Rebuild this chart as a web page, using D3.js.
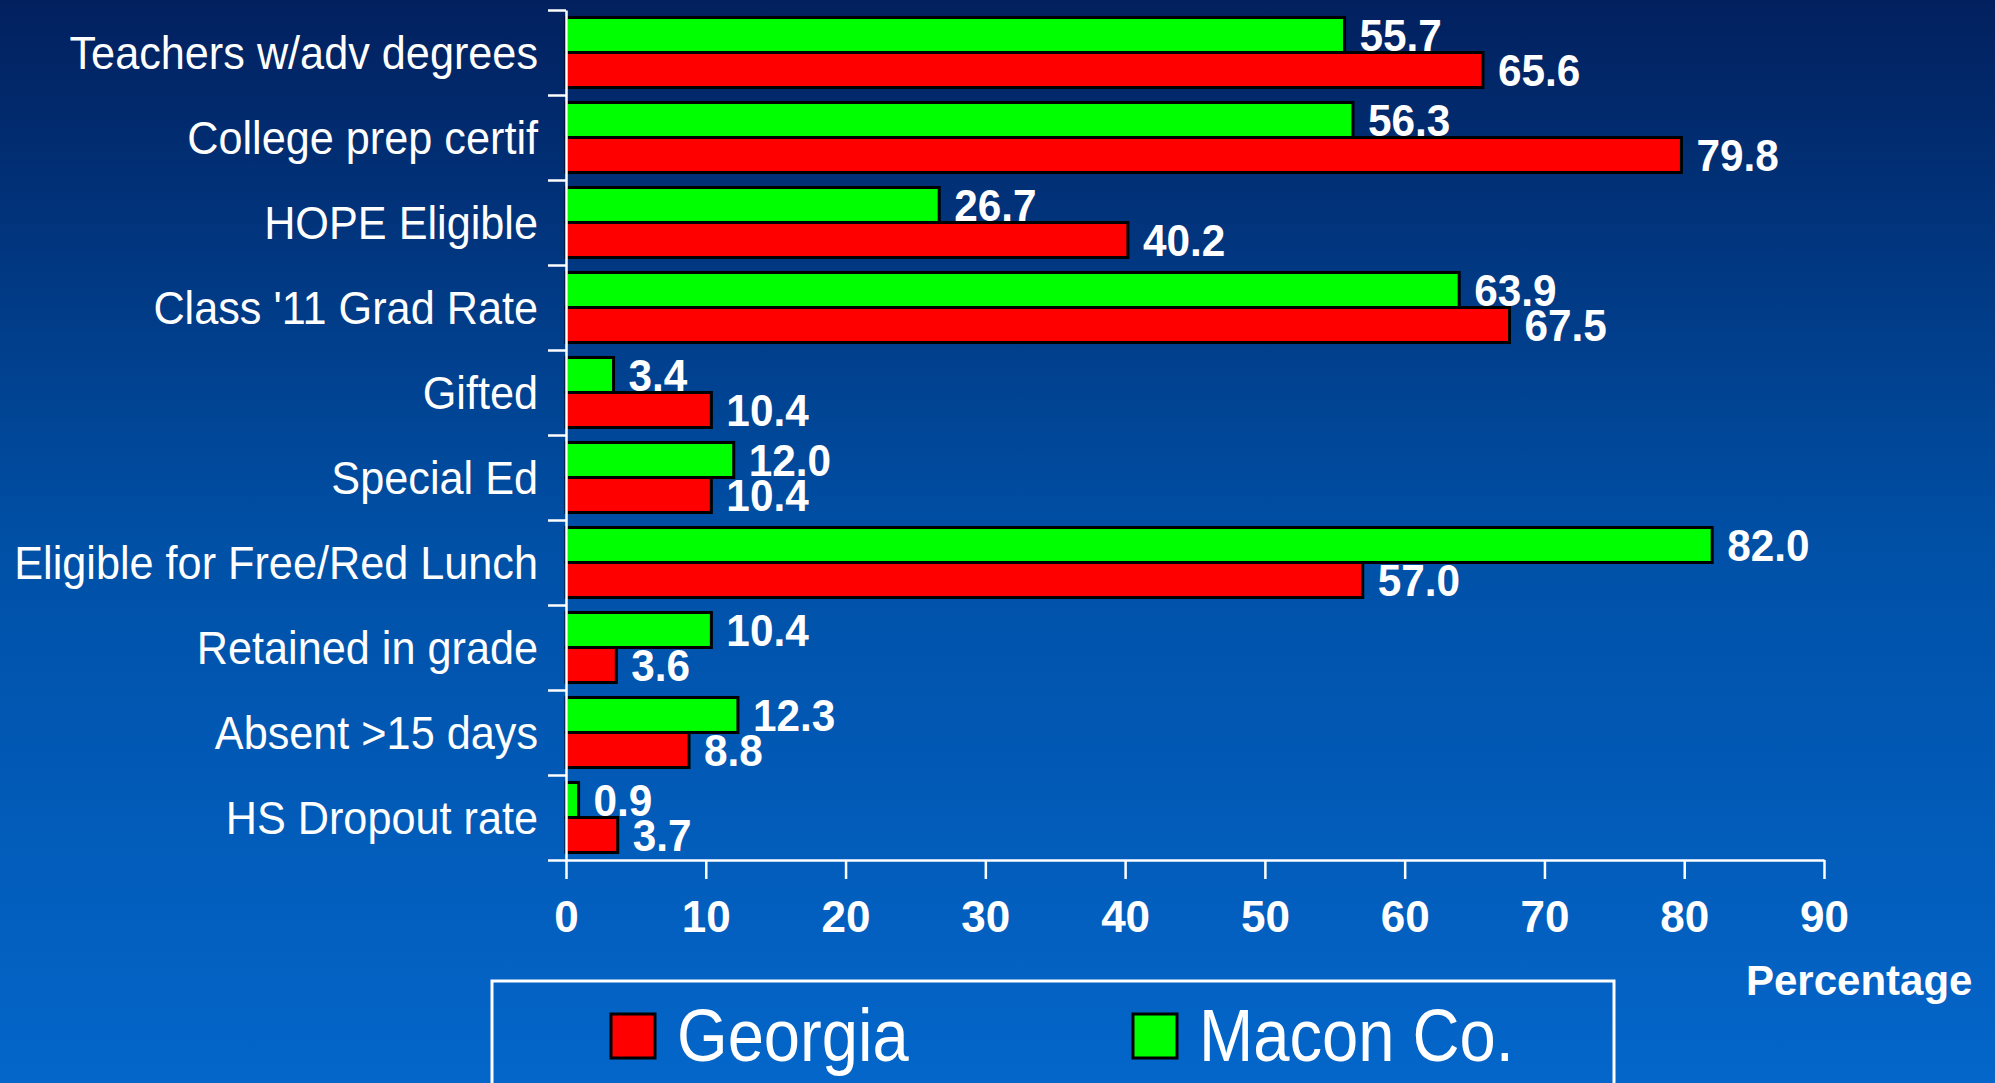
<!DOCTYPE html>
<html>
<head>
<meta charset="utf-8">
<script src="https://cdn.jsdelivr.net/npm/d3@7"></script>
<style>
  body { margin: 0; overflow: hidden; }
  svg { display: block; }
</style>
</head>
<body>
<svg id="chart" width="1995" height="1083"></svg>
<script>
var categories = ["Teachers w/adv degrees", "College prep certif", "HOPE Eligible",
  "Class '11 Grad Rate", "Gifted", "Special Ed", "Eligible for Free/Red Lunch",
  "Retained in grade", "Absent >15 days", "HS Dropout rate"];
var macon = [55.7, 56.3, 26.7, 63.9, 3.4, 12.0, 82.0, 10.4, 12.3, 0.9];
var georgia = [65.6, 79.8, 40.2, 67.5, 10.4, 10.4, 57.0, 3.6, 8.8, 3.7];
var seriesNames = ["Macon Co.", "Georgia"];
var seriesColors = ["#00ff00", "#ff0000"];
var xTicks = [0, 10, 20, 30, 40, 50, 60, 70, 80, 90];

var svg = d3.select("#chart");

// background gradient
var defs = svg.append("defs");
var grad = defs.append("linearGradient").attr("id", "bg")
  .attr("x1", 0).attr("y1", 0).attr("x2", 0).attr("y2", 1);
grad.append("stop").attr("offset", "0%").attr("stop-color", "#02205e");
grad.append("stop").attr("offset", "50%").attr("stop-color", "#0050a6");
grad.append("stop").attr("offset", "100%").attr("stop-color", "#0466ca");
svg.append("rect").attr("width", 1995).attr("height", 1083).attr("fill", "url(#bg)");

var x = d3.scaleLinear().domain([0, 90]).range([566, 1824]);
var y = d3.scaleBand().domain(categories).range([10, 860])
  .paddingInner(0.176).paddingOuter(0.088);
var ySub = d3.scaleBand().domain(seriesNames).range([0, y.bandwidth()]);
var yIdx = d3.scaleLinear().domain([0, categories.length]).range([10, 860]);

var rows = categories.map(function(c, i) {
  return {cat: c, vals: [macon[i], georgia[i]]};
});

var g = svg.append("g");
var row = g.selectAll("g.row").data(rows).enter().append("g")
  .attr("class", "row")
  .attr("transform", function(d) { return "translate(0," + y(d.cat) + ")"; });

row.selectAll("rect").data(function(d) {
    return d.vals.map(function(v, j) { return {v: v, s: seriesNames[j], c: seriesColors[j]}; });
  }).enter().append("rect")
  .attr("x", x(0))
  .attr("y", function(d) { return ySub(d.s); })
  .attr("width", function(d) { return x(d.v) - x(0); })
  .attr("height", ySub.bandwidth())
  .attr("fill", function(d) { return d.c; })
  .attr("stroke", "#000")
  .attr("stroke-width", 3);

row.selectAll("text.val").data(function(d) {
    return d.vals.map(function(v, j) { return {v: v, s: seriesNames[j]}; });
  }).enter().append("text")
  .attr("class", "val")
  .attr("transform", function(d) {
    return "translate(" + (x(d.v) + 15) + "," + (ySub(d.s) + ySub.bandwidth() / 2) + ") scale(0.94,1)";
  })
  .attr("dy", "0.35em")
  .attr("fill", "#fff")
  .attr("font-family", "Liberation Sans, Arial, sans-serif")
  .attr("font-weight", "bold")
  .attr("font-size", "45px")
  .text(function(d) { return d.v.toFixed(1); });

// category labels
g.selectAll("text.cat").data(categories).enter().append("text")
  .attr("class", "cat")
  .attr("transform", function(d) {
    return "translate(538," + (y(d) + y.bandwidth() / 2) + ") scale(0.92,1)";
  })
  .attr("dy", "0.35em")
  .attr("text-anchor", "end")
  .attr("fill", "#fff")
  .attr("font-family", "Liberation Sans, Arial, sans-serif")
  .attr("font-size", "47px")
  .text(function(d) { return d; });

// y axis: ticks at category boundaries
var yAxis = d3.axisLeft(yIdx).ticks(categories.length).tickFormat("").tickSize(18).tickSizeOuter(0);
var ya = g.append("g").attr("transform", "translate(" + x(0) + ",0)").call(yAxis);
ya.selectAll("path, line").attr("stroke", "#fff").attr("stroke-width", 2.5);

// x axis
var xAxis = d3.axisBottom(x).tickValues(xTicks).tickSize(19).tickSizeOuter(0).tickPadding(22);
var xa = g.append("g").attr("transform", "translate(0," + yIdx(categories.length) + ")").call(xAxis);
xa.selectAll("path, line").attr("stroke", "#fff").attr("stroke-width", 2.5);
xa.selectAll("text")
  .attr("fill", "#fff")
  .attr("font-family", "Liberation Sans, Arial, sans-serif")
  .attr("font-weight", "bold")
  .attr("font-size", "44px");

svg.append("text")
  .attr("x", 1746).attr("y", 995)
  .attr("fill", "#fff")
  .attr("font-family", "Liberation Sans, Arial, sans-serif")
  .attr("font-weight", "bold")
  .attr("font-size", "42px")
  .text("Percentage");

// legend
var legend = svg.append("g");
legend.append("rect")
  .attr("x", 492).attr("y", 981).attr("width", 1122).attr("height", 140)
  .attr("fill", "none").attr("stroke", "#fff").attr("stroke-width", 3);

var legendItems = [{name: "Georgia", color: seriesColors[1], x: 611},
                   {name: "Macon Co.", color: seriesColors[0], x: 1133}];
var li = legend.selectAll("g.item").data(legendItems).enter().append("g")
  .attr("class", "item");
li.append("rect")
  .attr("x", function(d) { return d.x; }).attr("y", 1014)
  .attr("width", 44).attr("height", 44)
  .attr("fill", function(d) { return d.color; })
  .attr("stroke", "#000").attr("stroke-width", 3);
li.append("text")
  .attr("transform", function(d) { return "translate(" + (d.x + 66) + ",1061) scale(0.88,1)"; })
  .attr("fill", "#fff")
  .attr("font-family", "Liberation Sans, Arial, sans-serif")
  .attr("font-size", "74px")
  .text(function(d) { return d.name; });
</script>
</body>
</html>
